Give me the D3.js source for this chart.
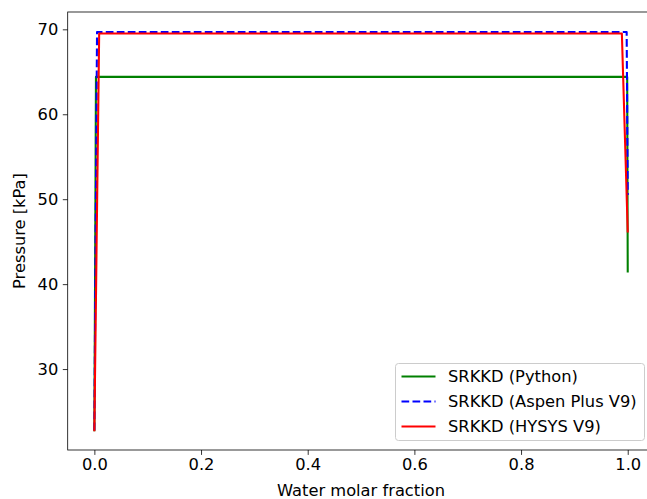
<!DOCTYPE html>
<html><head><meta charset="utf-8">
<script src="https://cdn.jsdelivr.net/npm/d3@7"></script>
<style>
html,body{margin:0;padding:0;background:#fff;overflow:hidden;}
text{font-family:"DejaVu Sans",sans-serif;}
</style></head>
<body>
<svg id="chart" width="647" height="499"></svg>
<script>
const seriesNames = ["SRKKD (Python)", "SRKKD (Aspen Plus V9)", "SRKKD (HYSYS V9)"];
const pythonX = [0, 0.003, 0.999, 1.0];
const pythonY = [22.8, 64.4, 64.4, 41.5];
const aspenX = [0, 0.005, 0.998, 1.0];
const aspenY = [22.8, 69.69, 69.69, 50.5];
const hysysX = [0, 0.009, 0.989, 1.0];
const hysysY = [22.8, 69.5, 69.5, 46.2];
const xTicks = [0.0, 0.2, 0.4, 0.6, 0.8, 1.0];
const yTicks = [30, 40, 50, 60, 70];

const colors = ["#008000", "#0000ff", "#ff0000"];
const dashes = [null, "7.7,3.3", null];
const fs = "16.3px";

const svg = d3.select("#chart");
const mLeft = 67.7, mTop = 12, mBottom = 450, mRight = 654.4;
const x = d3.scaleLinear().domain([-0.05, 1.05]).range([mLeft, mRight]);
const y = d3.scaleLinear().domain([20.47, 72.04]).range([mBottom, mTop]);

const series = [
  {name: seriesNames[0], xs: pythonX, ys: pythonY},
  {name: seriesNames[1], xs: aspenX, ys: aspenY},
  {name: seriesNames[2], xs: hysysX, ys: hysysY}
];

svg.append("clipPath").attr("id","clip").append("rect")
  .attr("x", mLeft).attr("y", mTop).attr("width", mRight-mLeft).attr("height", mBottom-mTop);

const line = d3.line().x(d => x(d[0])).y(d => y(d[1]));
const g = svg.append("g").attr("clip-path","url(#clip)");
series.forEach((s, i) => {
  const pts = s.xs.map((v, j) => [v, s.ys[j]]);
  g.append("path").attr("d", line(pts)).attr("fill","none")
    .attr("stroke", colors[i]).attr("stroke-width", 2.08)
    .attr("stroke-dasharray", dashes[i]).attr("stroke-linejoin","round").attr("stroke-linecap", dashes[i] ? "butt" : "square");
});

const xAxis = d3.axisBottom(x).tickValues(xTicks).tickFormat(d3.format(".1f")).tickSize(4.9).tickPadding(4);
const yAxis = d3.axisLeft(y).tickValues(yTicks).tickFormat(d3.format("d")).tickSize(4.9).tickPadding(4.5);
const gx = svg.append("g").attr("transform", `translate(0,${mBottom})`).call(xAxis);
const gy = svg.append("g").attr("transform", `translate(${mLeft},0)`).call(yAxis);
[gx, gy].forEach(a => {
  a.select(".domain").remove();
  a.selectAll(".tick line").attr("stroke","#000").attr("stroke-width",0.8);
  a.selectAll(".tick text").attr("fill","#000").style("font-size",fs).style("font-family","DejaVu Sans");
});
svg.append("rect").attr("x", mLeft).attr("y", mTop).attr("width", mRight-mLeft).attr("height", mBottom-mTop)
  .attr("fill","none").attr("stroke","#000").attr("stroke-width",0.8);

svg.append("text").attr("x", 361).attr("y", 496).attr("text-anchor","middle")
  .style("font-size",fs).attr("fill","#000").text("Water molar fraction");
svg.append("text").attr("transform", `translate(25,231) rotate(-90)`).attr("text-anchor","middle")
  .style("font-size",fs).attr("fill","#000").text("Pressure [kPa]");

const lg = svg.append("g");
lg.append("rect").attr("x",395.5).attr("y",363.5).attr("width",249).attr("height",77).attr("rx",3)
  .attr("fill","#fff").attr("fill-opacity",0.8).attr("stroke","#cccccc").attr("stroke-width",1);
series.forEach((s, i) => {
  const yy = 376.5 + i*25;
  lg.append("line").attr("x1",401.5).attr("x2",435.5).attr("y1",yy).attr("y2",yy)
    .attr("stroke",colors[i]).attr("stroke-width",2.08).attr("stroke-dasharray",dashes[i]);
  lg.append("text").attr("x",448).attr("y",yy).attr("dy","0.35em").style("font-size",fs)
    .attr("fill","#000").text(s.name);
});
</script>
</body></html>
